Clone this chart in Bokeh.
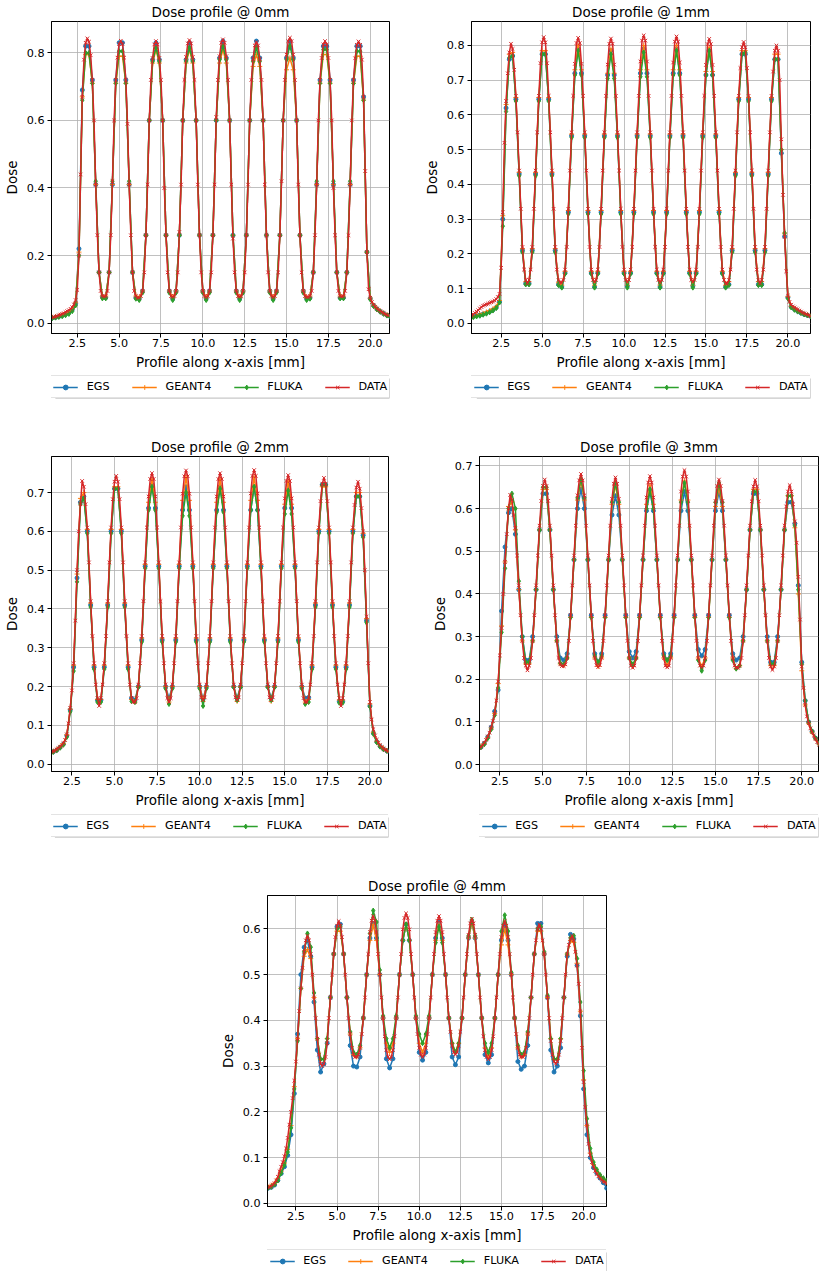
from bokeh.plotting import figure
from bokeh.models import Range1d, FixedTicker, PrintfTickFormatter, Legend, LegendItem, Spacer
from bokeh.layouts import row, column
from bokeh.embed import file_html
from bokeh.resources import INLINE
import numpy as np

NAMES = ["EGS", "GEANT4", "FLUKA", "DATA"]
COLORS = ["#1f77b4", "#ff7f0e", "#2ca02c", "#d62728"]
MARKERS = ["circle", "cross", "diamond", "x"]
TITLES = ["Dose profile @ 0mm", "Dose profile @ 1mm", "Dose profile @ 2mm",
          "Dose profile @ 3mm", "Dose profile @ 4mm"]
X_TICKS = [2.5, 5.0, 7.5, 10.0, 12.5, 15.0, 17.5, 20.0]
Y_TICKS = [[0.0, 0.2, 0.4, 0.6, 0.8],
           [0.0, 0.1, 0.2, 0.3, 0.4, 0.5, 0.6, 0.7, 0.8],
           [0.0, 0.1, 0.2, 0.3, 0.4, 0.5, 0.6, 0.7],
           [0.0, 0.1, 0.2, 0.3, 0.4, 0.5, 0.6, 0.7],
           [0.0, 0.1, 0.2, 0.3, 0.4, 0.5, 0.6]]
X_RANGES = [(0.96, 21.15), (0.69, 21.38), (1.30, 21.09), (1.32, 20.97), (0.77, 21.39)]
Y_RANGES = [(-0.031, 0.893), (-0.029, 0.869), (-0.019, 0.793), (-0.016, 0.722), (-0.007, 0.673)]
# sampling grids (start, step) of the measured and simulated profiles
DATA_START = [1.0, 0.7, 1.3, 1.3, 0.8]
SIM_START = [1.0, 0.8, 1.2, 1.2, 0.8]
DATA_LEN = [202, 208, 199, 198, 207]
SIM_LEN = [102, 104, 101, 100, 104]

# ---------------- 0 mm ----------------
DATA_0 = [
.016,.018,.019,.021,.023,.025,.027,.029,.032,.035,.038,.042,.047,.055,.068,.098,.20,.44,.67,.78,.83,
.843,
.833,.793,.72,.60,.41,.26,.15,.095,.08,.078,.08,.095,.15,.26,.42,.60,.72,.786,.826,
.836,
.826,.786,.72,.59,.41,.26,.15,.095,.08,.075,.075,.08,.095,.15,.26,.41,.60,.72,.785,.825,
.835,
.825,.785,.72,.60,.40,.26,.15,.095,.08,.077,.08,.095,.15,.27,.41,.60,.72,.788,.828,
.838,
.828,.788,.72,.60,.41,.26,.15,.095,.08,.076,.08,.095,.15,.26,.41,.61,.72,.79,.83,
.84,
.83,.79,.72,.60,.41,.25,.15,.095,.08,.078,.08,.095,.15,.26,.41,.60,.72,.782,.822,
.832,
.822,.782,.72,.60,.41,.26,.15,.095,.08,.076,.08,.095,.15,.26,.42,.60,.72,.795,.835,
.845,
.835,.795,.72,.60,.41,.26,.15,.095,.08,.077,.077,.08,.095,.15,.26,.41,.60,.72,.785,.825,
.835,
.825,.785,.72,.60,.40,.26,.15,.095,.08,.078,.08,.095,.15,.26,.41,.60,.72,.784,.824,
.834,
.824,.78,.67,.45,.21,.10,.075,.062,.054,.048,.043,.039,.035,.032,.029,.026,.024,.022]
EGS_0 = [
.015,.017,.019,.022,.026,.031,.04,.058,.22,.69,
.82,.82, .72,.41,.15,.078,.075,.15,.41,.72, .83,.83, .72,.41,.15,.075,.072,.095,.26,.60,.78, .83,
.78,.60,.26,.095,.072,.095,.26,.60,.78, .83, .78,.60,.26,.095,.072,.095,.26,.60,.785, .835,
.785,.60,.26,.095,.072,.095,.26,.60,.785, .835, .785,.60,.26,.095,.072,.095,.26,.60,.785, .835,
.785,.60,.26,.095,.072,.075,.15,.41,.72, .82,.82, .72,.41,.15,.075,.075,.15,.41,.72, .82,.82,
.67,.21,.073,.052,.042,.034,.028,.023,.019]
GEANT4_0 = [
.017,.019,.021,.024,.028,.033,.042,.06,.21,.67,
.795,.795, .71,.41,.15,.08,.08,.15,.41,.71, .79,.79, .71,.41,.15,.08,.075,.095,.26,.60,.77, .81,
.77,.60,.26,.095,.075,.095,.26,.60,.77, .81, .77,.60,.26,.095,.075,.095,.26,.60,.77, .81,
.77,.60,.26,.095,.075,.095,.26,.60,.76, .795, .76,.60,.26,.095,.075,.095,.26,.60,.75, .785,
.75,.60,.26,.095,.075,.08,.15,.41,.71, .795,.795, .71,.41,.15,.08,.08,.15,.41,.71, .79,.79,
.66,.21,.074,.053,.043,.035,.029,.024,.02]
FLUKA_0 = [
.014,.016,.018,.02,.023,.027,.035,.052,.20,.66,
.80,.80, .71,.42,.15,.073,.073,.15,.42,.71, .805,.805, .71,.42,.15,.072,.068,.09,.26,.60,.775, .815,
.775,.60,.26,.09,.068,.09,.26,.60,.775, .815, .775,.60,.26,.09,.068,.09,.26,.60,.78, .82,
.78,.60,.26,.09,.068,.09,.26,.60,.775, .815, .775,.60,.26,.09,.068,.09,.26,.60,.78, .82,
.78,.60,.26,.09,.068,.072,.15,.42,.71, .81,.81, .71,.42,.15,.073,.073,.15,.42,.71, .805,.805,
.66,.21,.07,.05,.04,.033,.027,.022,.018]

# ---------------- 1 mm ----------------
DATA_1 = [
.022,.026,.03,.034,.038,.043,.047,.051,.053,.055,.057,.059,.061,.063,.066,.07,.076,.085,.16,.32,.52,.64,.72,.78,
.805,
.79,.73,.655,.55,.44,.33,.22,.155,.125,.115,.125,.155,.22,.33,.44,.55,.655,.749,.809,
.824,
.809,.749,.655,.55,.44,.33,.22,.155,.125,.118,.118,.125,.155,.22,.33,.44,.55,.655,.747,.807,
.822,
.807,.747,.655,.55,.44,.33,.22,.155,.125,.12,.125,.155,.22,.33,.44,.55,.655,.745,.805,
.82,
.805,.745,.655,.55,.44,.33,.22,.155,.125,.12,.125,.155,.22,.33,.44,.55,.655,.754,.814,
.829,
.814,.754,.655,.55,.44,.33,.22,.155,.125,.118,.125,.155,.22,.33,.44,.55,.655,.751,.811,
.826,
.811,.751,.655,.55,.44,.33,.22,.155,.125,.12,.125,.155,.22,.33,.44,.55,.655,.744,.804,
.819,
.804,.744,.655,.55,.44,.33,.22,.155,.125,.115,.115,.125,.155,.22,.33,.44,.55,.655,.735,.795,
.81,
.795,.735,.655,.55,.44,.33,.22,.155,.125,.115,.125,.155,.22,.33,.44,.55,.655,.725,.785,
.80,
.785,.70,.53,.37,.25,.15,.08,.062,.054,.049,.046,.043,.04,.037,.034,.031,.029,.027,.025,.023,.021]
EGS_1 = [
.02,.022,.024,.027,.03,.034,.039,.046,.062,.30,.62,
.76,.77, .645,.43,.21,.115,.115,.21,.43,.645, .775,.775, .645,.43,.21,.112,.105,.145,.32,.54,.72, .79,
.72,.54,.32,.145,.105,.145,.32,.54,.715, .785, .715,.54,.32,.145,.108,.145,.32,.54,.72, .79,
.72,.54,.32,.145,.105,.145,.32,.54,.72, .79, .72,.54,.32,.145,.108,.145,.32,.54,.715, .785,
.715,.54,.32,.145,.105,.112,.21,.43,.645, .775,.775, .645,.43,.21,.112,.112,.21,.43,.645, .76,.76,
.49,.25,.075,.048,.041,.035,.03,.026,.023,.02]
GEANT4_1 = [
.021,.023,.026,.029,.033,.037,.042,.049,.066,.31,.63,
.775,.78, .65,.435,.215,.12,.12,.215,.435,.65, .785,.785, .65,.435,.215,.117,.11,.15,.325,.545,.73, .80,
.73,.545,.325,.15,.11,.15,.325,.545,.72, .79, .72,.545,.325,.15,.11,.15,.325,.545,.73, .80,
.73,.545,.325,.15,.11,.15,.325,.545,.73, .80, .73,.545,.325,.15,.11,.15,.325,.545,.725, .795,
.725,.545,.325,.15,.11,.12,.215,.435,.65, .785,.785, .65,.435,.215,.12,.12,.215,.435,.65, .775,.775,
.50,.26,.078,.05,.042,.036,.031,.027,.024,.021]
FLUKA_1 = [
.018,.02,.022,.025,.028,.032,.037,.044,.06,.28,.61,
.765,.77, .64,.425,.205,.112,.112,.205,.425,.64, .775,.775, .64,.425,.205,.11,.103,.143,.315,.535,.715, .785,
.715,.535,.315,.143,.103,.143,.315,.535,.705, .775, .705,.535,.315,.143,.103,.143,.315,.535,.71, .78,
.71,.535,.315,.143,.103,.143,.315,.535,.715, .785, .715,.535,.315,.143,.103,.143,.315,.535,.715, .785,
.715,.535,.315,.143,.103,.11,.205,.425,.64, .775,.78, .64,.425,.205,.11,.11,.205,.425,.64, .76,.76,
.50,.26,.072,.046,.039,.034,.03,.026,.023,.02]

# ---------------- 2 mm ----------------
DATA_2 = [
.031,.033,.035,.038,.041,.045,.049,.054,.062,.077,.105,.145,.19,.26,.37,.50,.60,.67,
.73,
.715,.67,.61,.52,.42,.33,.26,.205,.17,.15,.17,.205,.26,.33,.42,.52,.61,.683,.728,
.743,
.728,.683,.61,.52,.42,.33,.26,.205,.17,.16,.16,.17,.205,.26,.33,.42,.52,.61,.69,.735,
.75,
.735,.69,.61,.52,.42,.33,.26,.205,.17,.16,.17,.205,.26,.33,.42,.52,.61,.697,.742,
.757,
.742,.697,.61,.52,.42,.33,.26,.205,.172,.165,.172,.205,.26,.33,.42,.52,.61,.69,.735,
.75,
.735,.69,.61,.52,.42,.33,.26,.205,.172,.165,.172,.205,.26,.33,.42,.52,.61,.698,.743,
.758,
.743,.698,.61,.52,.42,.33,.26,.205,.172,.165,.172,.205,.26,.33,.42,.52,.61,.685,.73,
.745,
.73,.685,.61,.52,.42,.33,.26,.205,.17,.16,.16,.17,.205,.26,.33,.42,.52,.61,.678,.723,
.738,
.723,.678,.61,.52,.42,.33,.26,.205,.17,.15,.17,.205,.26,.33,.42,.52,.61,.668,.713,
.728,
.71,.66,.60,.50,.38,.26,.16,.115,.09,.074,.063,.055,.049,.044,.04,.037,.035,.033]
EGS_2 = [
.03,.032,.036,.043,.052,.074,.14,.25,.48,
.675,.69, .60,.41,.25,.165,.165,.25,.41,.60, .71,.71, .60,.41,.25,.17,.165,.20,.32,.51,.66, .72,
.66,.51,.32,.20,.17,.20,.32,.51,.655, .715, .655,.51,.32,.20,.168,.20,.32,.51,.655, .715,
.655,.51,.32,.20,.17,.20,.32,.51,.655, .715, .655,.51,.32,.20,.17,.20,.32,.51,.66, .72,
.66,.51,.32,.20,.17,.172,.25,.41,.60, .72,.72, .60,.41,.25,.162,.162,.25,.41,.60, .69,.69,
.59,.37,.15,.08,.058,.046,.039,.034,.031]
GEANT4_2 = [
.031,.033,.037,.044,.053,.076,.142,.255,.49,
.685,.70, .605,.415,.255,.167,.167,.255,.415,.605, .715,.715, .605,.415,.255,.167,.16,.20,.325,.515,.675, .735,
.675,.515,.325,.20,.16,.20,.325,.515,.68, .74, .68,.515,.325,.20,.162,.20,.325,.515,.675, .735,
.675,.515,.325,.20,.162,.20,.325,.515,.68, .74, .68,.515,.325,.20,.162,.20,.325,.515,.67, .73,
.67,.515,.325,.20,.16,.167,.255,.415,.605, .715,.715, .605,.415,.255,.165,.165,.255,.415,.605, .70,.70,
.595,.375,.155,.082,.059,.047,.04,.035,.032]
FLUKA_2 = [
.029,.031,.035,.042,.05,.07,.135,.24,.47,
.67,.685, .595,.405,.245,.16,.16,.245,.405,.595, .71,.71, .595,.405,.245,.162,.16,.198,.315,.505,.655, .715,
.655,.505,.315,.195,.155,.195,.315,.505,.64, .70, .64,.505,.315,.195,.15,.195,.315,.505,.65, .71,
.65,.505,.315,.198,.165,.198,.315,.505,.655, .715, .655,.505,.315,.198,.165,.198,.315,.505,.645, .705,
.645,.505,.315,.195,.155,.16,.245,.405,.595, .72,.72, .595,.405,.245,.158,.158,.245,.405,.595, .69,.69,
.585,.365,.148,.078,.056,.045,.038,.034,.031]

# ---------------- 3 mm ----------------
DATA_3 = [
.039,.042,.046,.051,.058,.066,.075,.087,.102,.12,.15,.195,.256,.32,.40,.475,.54,.60,
.632,
.62,.585,.555,.49,.42,.35,.29,.25,.232,.221,.232,.25,.29,.35,.42,.49,.56,.618,.653,
.668,
.653,.618,.56,.49,.42,.35,.29,.25,.235,.231,.231,.235,.25,.29,.35,.42,.49,.56,.631,.666,
.681,
.666,.631,.56,.49,.42,.35,.29,.25,.233,.229,.233,.25,.29,.35,.42,.49,.56,.623,.658,
.673,
.658,.623,.56,.49,.42,.35,.29,.25,.232,.227,.232,.25,.29,.35,.42,.49,.56,.626,.661,
.676,
.661,.626,.56,.49,.42,.35,.29,.25,.232,.228,.232,.25,.29,.35,.42,.49,.56,.64,.675,
.69,
.675,.64,.56,.49,.42,.35,.29,.25,.232,.228,.232,.25,.29,.35,.42,.49,.56,.618,.653,
.668,
.653,.618,.56,.49,.42,.35,.29,.25,.232,.227,.227,.232,.25,.29,.35,.42,.49,.56,.617,.652,
.667,
.652,.617,.56,.49,.42,.35,.29,.25,.23,.222,.23,.25,.29,.35,.42,.49,.56,.605,.64,
.655,
.64,.61,.57,.52,.44,.34,.23,.18,.14,.113,.097,.085,.076,.068,.06,.053,.047]
EGS_3 = [
.037,.041,.05,.065,.088,.125,.175,.36,.51,
.59,.60, .54,.41,.30,.245,.245,.30,.41,.55, .635,.635, .55,.41,.30,.25,.245,.26,.35,.48,.60, .645,
.60,.48,.35,.26,.24,.26,.35,.48,.585, .63, .585,.48,.35,.265,.25,.265,.35,.48,.595, .64,
.595,.48,.35,.26,.245,.26,.35,.48,.595, .64, .595,.48,.35,.27,.255,.27,.35,.48,.595, .64,
.595,.48,.35,.26,.245,.25,.30,.41,.55, .635,.635, .55,.41,.30,.24,.24,.30,.41,.55, .615,.615,
.565,.42,.24,.15,.10,.078,.062,.05]
GEANT4_3 = [
.038,.042,.05,.064,.086,.12,.19,.325,.475,
.605,.615, .55,.41,.29,.236,.236,.29,.41,.55, .645,.645, .55,.41,.29,.236,.232,.25,.345,.48,.62, .665,
.62,.48,.345,.25,.23,.25,.345,.48,.61, .655, .61,.48,.345,.25,.23,.25,.345,.48,.61, .655,
.61,.48,.345,.25,.232,.25,.345,.48,.62, .665, .62,.48,.345,.25,.23,.25,.345,.48,.605, .65,
.605,.48,.345,.25,.225,.232,.29,.41,.55, .645,.645, .55,.41,.29,.232,.232,.29,.41,.55, .63,.63,
.555,.40,.22,.14,.097,.075,.06,.048]
FLUKA_3 = [
.038,.041,.048,.062,.083,.116,.18,.31,.46,
.60,.635, .60,.43,.30,.24,.24,.29,.41,.55, .65,.65, .55,.41,.29,.238,.235,.25,.345,.48,.625, .67,
.625,.48,.345,.255,.24,.255,.345,.48,.615, .66, .615,.48,.345,.25,.235,.25,.345,.48,.60, .645,
.60,.48,.345,.255,.245,.255,.345,.48,.615, .66, .615,.48,.345,.245,.22,.245,.345,.48,.615, .66,
.615,.48,.345,.245,.225,.232,.29,.41,.55, .64,.64, .55,.41,.29,.236,.236,.29,.41,.55, .63,.63,
.56,.41,.235,.15,.10,.078,.062,.05]

# ---------------- 4 mm ----------------
DATA_4 = [
.034,.036,.038,.041,.044,.05,.058,.07,.08,.09,.103,.12,.143,.172,.20,.23,.268,.31,.36,.42,.47,.515,.55,
.575,
.585,.575,.545,.50,.45,.405,.36,.325,.305,.30,.305,.32,.35,.405,.45,.50,.545,.582,.607,
.617,
.607,.582,.545,.50,.45,.405,.37,.34,.325,.32,.32,.325,.34,.37,.405,.45,.50,.545,.593,.618,
.628,
.618,.593,.545,.50,.45,.405,.365,.335,.32,.315,.32,.335,.365,.405,.45,.50,.545,.599,.624,
.634,
.624,.599,.545,.50,.45,.405,.37,.34,.325,.32,.325,.34,.37,.405,.45,.50,.545,.593,.618,
.628,
.618,.593,.545,.50,.45,.405,.375,.345,.33,.325,.33,.345,.375,.405,.45,.50,.545,.587,.612,
.622,
.612,.587,.545,.50,.45,.405,.365,.335,.32,.315,.32,.335,.365,.405,.45,.50,.545,.582,.607,
.617,
.607,.582,.545,.50,.45,.405,.37,.34,.325,.32,.32,.325,.34,.37,.405,.45,.50,.545,.575,.60,
.61,
.60,.575,.545,.50,.45,.405,.355,.325,.31,.305,.31,.325,.355,.405,.45,.50,.545,.565,.578,
.585,
.575,.55,.52,.48,.42,.34,.265,.21,.17,.13,.105,.09,.08,.071,.064,.059,.055,.051,.048,.046,.044]
EGS_4 = [
.033,.035,.04,.05,.065,.08,.105,.15,.24,.37,.50,
.56,.575, .54,.44,.335,.287,.305,.35,.45,.545, .605,.61, .545,.45,.345,.30,.298,.32,.405,.50,.58, .612,
.58,.50,.405,.316,.296,.316,.405,.50,.575, .61, .575,.50,.405,.33,.313,.33,.405,.50,.58, .615,
.58,.50,.405,.32,.303,.32,.405,.50,.58, .615, .58,.50,.405,.325,.307,.325,.405,.50,.575, .61,
.575,.50,.405,.31,.293,.30,.345,.45,.545, .612,.612, .545,.45,.335,.287,.30,.34,.45,.54, .588,.578,
.52,.41,.25,.15,.10,.078,.066,.055,.045,.033]
GEANT4_4 = [
.036,.039,.044,.054,.07,.088,.118,.17,.255,.36,.47,
.54,.555, .535,.45,.36,.315,.315,.36,.45,.545, .595,.595, .545,.45,.37,.325,.32,.34,.405,.50,.575, .61,
.575,.50,.405,.35,.33,.35,.405,.50,.575, .61, .575,.50,.405,.35,.33,.35,.405,.50,.575, .61,
.575,.50,.405,.35,.33,.35,.405,.50,.58, .615, .58,.50,.405,.34,.32,.34,.405,.50,.565, .60,
.565,.50,.405,.34,.32,.325,.37,.45,.545, .595,.595, .545,.45,.36,.315,.315,.36,.45,.545, .575,.57,
.525,.42,.27,.17,.11,.085,.07,.058,.05,.045]
FLUKA_4 = [
.034,.036,.041,.05,.066,.084,.112,.165,.25,.355,.47,
.55,.59, .56,.46,.36,.315,.315,.36,.45,.545, .60,.605, .545,.45,.375,.33,.325,.345,.405,.50,.59, .64,
.615,.51,.41,.36,.34,.36,.41,.50,.575, .61, .575,.50,.41,.37,.35,.37,.41,.50,.57, .605,
.57,.50,.405,.35,.33,.35,.405,.50,.585, .62, .585,.50,.405,.35,.33,.35,.405,.50,.595, .63,
.595,.505,.405,.345,.325,.33,.375,.45,.545, .60,.605, .55,.455,.36,.315,.315,.36,.45,.545, .58,.585,
.535,.44,.29,.185,.12,.09,.074,.062,.055,.05]

SERIES = [
    [EGS_0, GEANT4_0, FLUKA_0, DATA_0],
    [EGS_1, GEANT4_1, FLUKA_1, DATA_1],
    [EGS_2, GEANT4_2, FLUKA_2, DATA_2],
    [EGS_3, GEANT4_3, FLUKA_3, DATA_3],
    [EGS_4, GEANT4_4, FLUKA_4, DATA_4],
]

problems = []
for i, s in enumerate(SERIES):
    for j, arr in enumerate(s):
        n = DATA_LEN[i] if j == 3 else SIM_LEN[i]
        if len(arr) != n:
            problems.append(f"plot{i} {NAMES[j]}: {len(arr)} != {n}")
if problems:
    raise SystemExit("; ".join(problems))

FONT = "DejaVu Sans"
LEG_W = 345   # approximate legend box width (for its drop shadow)
LEG_H = 20


def style_axis(ax, label, ticks, standoff):
    ax.ticker = FixedTicker(ticks=ticks)
    ax.formatter = PrintfTickFormatter(format="%.1f")
    ax.axis_label = label
    ax.axis_label_text_font = FONT
    ax.axis_label_text_font_size = "13.5px"
    ax.axis_label_text_font_style = "normal"
    ax.axis_label_text_color = "black"
    ax.axis_label_standoff = 4
    ax.major_label_text_font = FONT
    ax.major_label_text_font_size = "11.2px"
    ax.major_label_text_color = "black"
    ax.major_label_standoff = standoff
    ax.major_tick_out = 4
    ax.major_tick_in = 0
    ax.major_tick_line_color = "black"
    ax.minor_tick_line_color = None
    ax.axis_line_color = "black"


def add_marks(p, j, xs, ys, scale=1.0):
    col = COLORS[j]
    r1 = p.line(xs, ys, line_color=col, line_width=1.5)
    mk = MARKERS[j]
    if mk == "circle":
        r2 = p.scatter(xs, ys, marker="circle", size=4 * scale, fill_color=col, line_color=col)
    elif mk == "diamond":
        r2 = p.scatter(xs, ys, marker="diamond", size=5 * scale, fill_color=col, line_color=col)
    else:
        r2 = p.scatter(xs, ys, marker=mk, size=5 * scale, line_color=col, fill_color=None, line_width=1)
    return r1, r2


def make_panel(i, width, height, bl, br, bt, bb, leg_h, leg_off):
    p = figure(width=width, height=height,
               x_range=Range1d(*X_RANGES[i]), y_range=Range1d(*Y_RANGES[i]),
               output_backend="svg", toolbar_location=None,
               min_border_left=bl, min_border_right=br,
               min_border_top=bt, min_border_bottom=bb,
               title=TITLES[i])
    p.title.align = "center"
    p.title.text_font = FONT
    p.title.text_font_size = "13.5px"
    p.title.text_font_style = "normal"
    p.title.text_color = "black"
    p.title.standoff = 3
    p.outline_line_color = "black"
    p.outline_line_width = 1
    style_axis(p.xaxis[0], "Profile along x-axis [mm]", X_TICKS, 1)
    style_axis(p.yaxis[0], "Dose", Y_TICKS[i], 3)
    p.xgrid.grid_line_color = "#b0b0b0"
    p.ygrid.grid_line_color = "#b0b0b0"
    p.xgrid.grid_line_width = 0.8
    p.ygrid.grid_line_width = 0.8

    for j, ys in enumerate(SERIES[i]):
        if j == 3:
            xs = np.round(DATA_START[i] + 0.1 * np.arange(len(ys)), 3)
        else:
            xs = np.round(SIM_START[i] + 0.2 * np.arange(len(ys)), 3)
        add_marks(p, j, xs, ys)

    # legend strip below the plot (same horizontal borders so it centres on the frame)
    fw = width - bl - br
    lf = figure(width=width, height=leg_h, x_range=Range1d(0, fw), y_range=Range1d(0, leg_h),
                output_backend="svg", toolbar_location=None,
                x_axis_type=None, y_axis_type=None,
                min_border_left=bl, min_border_right=br, min_border_top=0, min_border_bottom=0)
    lf.outline_line_color = None
    lf.xgrid.visible = False
    lf.ygrid.visible = False
    top = leg_h - leg_off
    lf.quad(left=[fw / 2 - LEG_W / 2 + 3], right=[fw / 2 + LEG_W / 2 + 3],
            top=[top - 3], bottom=[top - LEG_H - 3],
            fill_color="#9a9a9a", fill_alpha=0.8, line_color=None)
    items = []
    for j in range(4):
        r1, r2 = add_marks(lf, j, [-50.0], [-50.0], scale=1.5)
        items.append(LegendItem(label=NAMES[j], renderers=[r1, r2]))
    leg = Legend(items=items, orientation="horizontal", location="top_center")
    leg.label_text_font = FONT
    leg.label_text_font_size = "11.2px"
    leg.label_text_color = "black"
    leg.glyph_width = 25
    leg.glyph_height = 12
    leg.label_height = 12
    leg.label_standoff = 9
    leg.spacing = 22
    leg.padding = 4
    leg.margin = leg_off
    leg.border_line_color = "#c8c8c8"
    leg.border_line_width = 1
    leg.background_fill_color = "white"
    leg.background_fill_alpha = 1.0
    lf.add_layout(leg)
    return column(p, lf)


c0 = make_panel(0, 420, 373, 42, 31, 19, 40, 62, 2)
c1 = make_panel(1, 394, 373, 40, 4, 19, 40, 62, 2)
c2 = make_panel(2, 428, 376, 42, 40, 19, 40, 63, 3)
c3 = make_panel(3, 392, 376, 40, 2, 19, 40, 63, 3)
c4 = make_panel(4, 400, 372, 40, 10, 19, 40, 25, 3)

layout = column(row(c0, c1), row(c2, c3), row(Spacer(width=216), c4))

open("out.html", "w").write(file_html(layout, INLINE))
